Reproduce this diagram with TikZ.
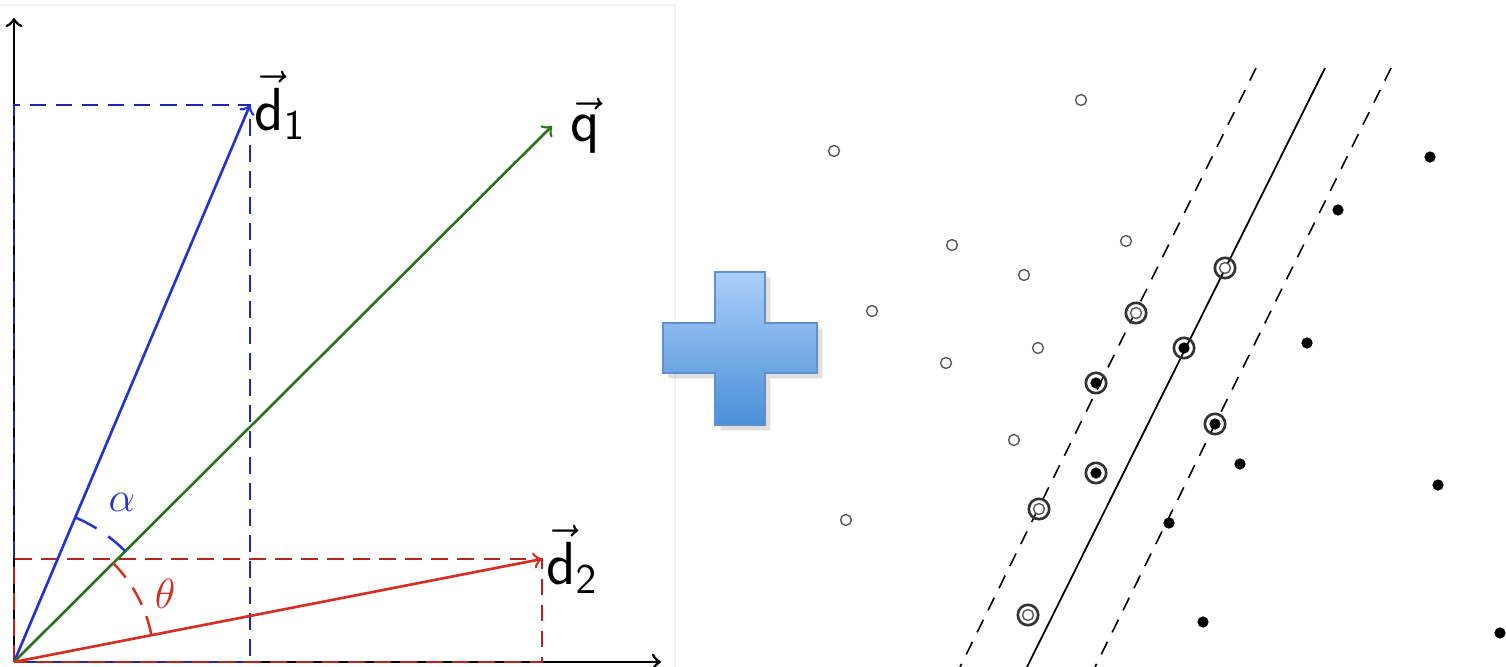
\documentclass[tikz,border=0pt]{standalone}
\usepackage{amsmath, amssymb}
\usepackage{xcolor}
\usepackage{tikz}
\usetikzlibrary{calc, shapes.geometric, positioning, shadows}

\definecolor{vblue}{RGB}{35,50,215}
\definecolor{vgreen}{RGB}{45,115,30}
\definecolor{vred}{RGB}{215,45,35}
\definecolor{pblue}{RGB}{95,145,205}
\definecolor{pluslight}{RGB}{172,206,250}
\definecolor{plusdark}{RGB}{74,144,216}

\begin{document}
\begin{tikzpicture}[x=0.01cm, y=0.01cm,
  vec/.style={->, line width=0.75pt},
  proj/.style={dash pattern=on 4.8pt off 2.6pt, line width=0.6pt},
  vlabel/.style={anchor=west, inner sep=1pt, font=\fontsize{16.5}{20}\selectfont},
  anglab/.style={inner sep=0pt, font=\fontsize{12}{14}\selectfont},
  opendot/.style={circle, draw=black!65, line width=0.4pt, fill=white, inner sep=0pt, minimum size=3.1pt},
  fulldot/.style={circle, fill=black, inner sep=0pt, minimum size=3.2pt},
  svring/.style={circle, draw=black!80, line width=0.75pt, inner sep=0pt, minimum size=5.8pt},
  margin/.style={dash pattern=on 4pt off 3pt, line width=0.45pt}]
\useasboundingbox (0,0) rectangle (1506,667);

% left: vectors and angles
\draw[black!5] (0,662) -- (675,662) -- (675,0);
\coordinate (O) at (14,5);
\coordinate (ytop) at (14,649);
\coordinate (xend) at (661,5);
\coordinate (D1) at (250,562);
\coordinate (Q) at (552,541);
\coordinate (D2) at (542,108);
\draw[->, line width=0.8pt] (O) -- (ytop);
\draw[->, line width=0.8pt] (O) -- (xend);
\draw[proj, vblue!80!black] (O) rectangle (D1);
\draw[proj, vred!85!black] (O) rectangle (D2);
\draw[vec, vblue] (O) -- (D1);
\draw[vec, vgreen] (O) -- (Q);
\draw[vec, vred] (O) -- (D2);
\node[vlabel] (ld1) at (D1) {$\vec{\mathsf{d}}_{\mathsf{1}}$};
\node[vlabel, xshift=4pt] (lq) at (Q) {$\vec{\mathsf{q}}$};
\node[vlabel] (ld2) at (D2) {$\vec{\mathsf{d}}_{\mathsf{2}}$};

\draw[vblue, line width=0.7pt, dash pattern=on 6.8pt off 4pt]
  ($(O)+(67:157)$) arc[start angle=67, end angle=45, radius=157];
\draw[vred, line width=0.7pt, dash pattern=on 5.5pt off 3.5pt]
  ($(O)+(45:140)$) arc[start angle=45, end angle=11, radius=140];
\node[anglab, text=vblue] (lalpha) at (122,165) {$\alpha$};
\node[anglab, text=vred] (ltheta) at (165,73) {$\theta$};

% plus sign
\path[draw=pblue, line width=0.6pt, top color=pluslight, bottom color=plusdark,
  drop shadow={opacity=0.25, shadow xshift=1.5pt, shadow yshift=-1.5pt}]
  (715,395) -- (765,395) -- (765,344) -- (817,344) -- (817,294) -- (765,294)
  -- (765,242) -- (715,242) -- (715,294) -- (663,294) -- (663,344) -- (715,344) -- cycle;

% right: separating line and margins
\coordinate (mlt) at (1256,599);
\coordinate (mlb) at (960,0);
\coordinate (hpt) at (1325,599);
\coordinate (hpb) at (1027,0);
\coordinate (mrt) at (1391,599);
\coordinate (mrb) at (1095,0);
\draw[margin] (mlt) -- (mlb);
\draw[line width=0.5pt] (hpt) -- (hpb);
\draw[margin] (mrt) -- (mrb);

\foreach \p [count=\i] in {(1081,567),(834,516),(952,422),(1126,426),(1024,392),
    (872,356),(946,304),(1038,319),(1014,227),(846,147)}
  \node[opendot] (w\i) at \p {};
\foreach \p [count=\i] in {(1430,510),(1338,457),(1307,324),(1240,203),(1438,182),
    (1169,144),(1203,45),(1500,34)}
  \node[fulldot] (b\i) at \p {};
% support vectors
\foreach \p [count=\i] in {(1225,399),(1136,354),(1039,158),(1028,52)}{
  \node[svring] (sw\i) at \p {};
  \node[opendot] (swc\i) at (sw\i) {};
}
\foreach \p [count=\i] in {(1184,319),(1096,284),(1215,243),(1096,194)}{
  \node[svring] (sb\i) at \p {};
  \node[fulldot] (sbc\i) at (sb\i) {};
}
\end{tikzpicture}
\end{document}
